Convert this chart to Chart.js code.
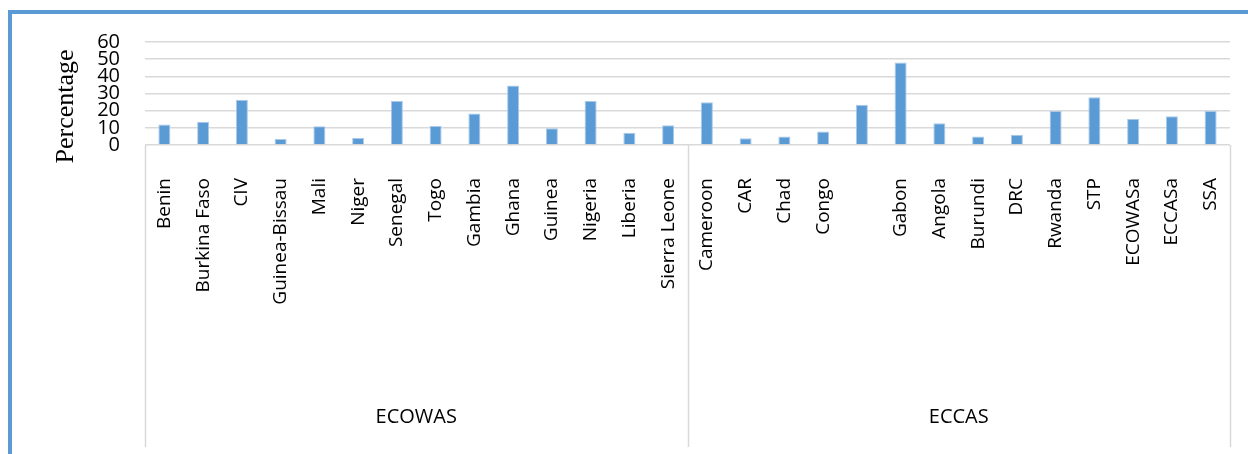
<!DOCTYPE html>
<html>
<head>
<meta charset="utf-8">
<title>Percentage by country</title>
<script src="https://cdn.jsdelivr.net/npm/chart.js@4/dist/chart.umd.min.js"></script>
<style>
    html, body {
        margin: 0;
        padding: 0;
        background: #ffffff;
        overflow: hidden;
    }
    #frame {
        position: absolute;
        left: 8px;
        top: 10px;
        width: 2000px;
        height: 2000px;
        border-left: 4px solid #5b9bd5;
        border-top: 4px solid #5b9bd5;
        box-sizing: border-box;
        pointer-events: none;
    }
    #percentChart {
        position: absolute;
        left: 0;
        top: 0;
    }
</style>
</head>
<body>
<canvas id="percentChart" width="1248" height="454"></canvas>
<div id="frame"></div>
<script>
// ECOWAS countries
const ecowasLabels = ['Benin', 'Burkina Faso', 'CIV', 'Guinea-Bissau', 'Mali', 'Niger', 'Senegal',
    'Togo', 'Gambia', 'Ghana', 'Guinea', 'Nigeria', 'Liberia', 'Sierra Leone'];
const ecowasValues = [12, 13.6, 26.4, 3.5, 10.9, 4.1, 25.6, 11.1, 18.3, 34.6, 9.7, 25.6, 7.2, 11.5];

// ECCAS countries (one category has no label in the source)
const eccasLabels = ['Cameroon', 'CAR', 'Chad', 'Congo', '', 'Gabon', 'Angola', 'Burundi', 'DRC',
    'Rwanda', 'STP', 'ECOWASa', 'ECCASa', 'SSA'];
const eccasValues = [24.9, 3.9, 4.9, 7.8, 23.5, 48, 12.6, 4.9, 6.0, 19.8, 27.8, 15.1, 16.7, 19.8];

const groupNames = ['ECOWAS', 'ECCAS'];
const yTitle = 'Percentage';
const yMax = 60;
const yStep = 10;

const GRID_COLOR = '#d9d9d9';
const BAR_COLOR = '#5b9bd5';

/**
 * Draws the y title, the group separators and the ECOWAS / ECCAS labels
 */
const groupAxisPlugin = {
    id: 'groupAxis',
    afterDraw(chart) {
        const ctx = chart.ctx;
        const x = chart.scales.x;
        const area = chart.chartArea;
        const top = area.bottom;
        const bottom = x.bottom;
        const sizes = [ecowasLabels.length, eccasLabels.length];

        // boundaries in category units
        const bounds = [-0.5];
        sizes.forEach(n => bounds.push(bounds[bounds.length - 1] + n));

        ctx.save();
        ctx.strokeStyle = GRID_COLOR;
        ctx.lineWidth = 1.5;
        bounds.forEach(b => {
            const px = Math.round(x.getPixelForValue(b)) + 0.5;
            ctx.beginPath();
            ctx.moveTo(px, top);
            ctx.lineTo(px, bottom);
            ctx.stroke();
        });

        ctx.fillStyle = '#000000';
        ctx.font = '20px "Open Sans"';
        ctx.textAlign = 'center';
        ctx.textBaseline = 'middle';
        groupNames.forEach((name, i) => {
            const cx = (x.getPixelForValue(bounds[i]) + x.getPixelForValue(bounds[i + 1])) / 2;
            ctx.fillText(name, cx, bottom - 30);
        });

        // y axis title, sits a little below the middle of the plot like the source
        ctx.translate(chart.scales.y.left + 66, (area.top + area.bottom) / 2 + 13);
        ctx.rotate(-Math.PI / 2);
        ctx.font = '26px "Liberation Serif"';
        ctx.fillText(yTitle, 0, 0);
        ctx.restore();
    }
};

document.addEventListener('DOMContentLoaded', () => {
    const ctx = document.getElementById('percentChart').getContext('2d');
    new Chart(ctx, {
        type: 'bar',
        data: {
            labels: ecowasLabels.concat(eccasLabels),
            datasets: [{
                label: yTitle,
                data: ecowasValues.concat(eccasValues),
                backgroundColor: BAR_COLOR,
                borderColor: '#a9c9ea',
                borderWidth: 1,
                categoryPercentage: 1,
                barPercentage: 0.31
            }]
        },
        options: {
            responsive: false,
            animation: false,
            devicePixelRatio: 1,
            layout: {
                padding: { top: 42, left: 0, right: 18, bottom: 7 }
            },
            plugins: {
                legend: { display: false },
                tooltip: { enabled: false }
            },
            scales: {
                x: {
                    offset: true,
                    grid: { display: false },
                    border: { display: false },
                    ticks: {
                        autoSkip: false,
                        minRotation: 90,
                        maxRotation: 90,
                        padding: 25,
                        color: '#000000',
                        font: { family: 'Open Sans', size: 19 }
                    },
                    afterFit(scale) {
                        scale.height = 302;
                        scale.paddingLeft = 0;
                        scale.paddingRight = 0;
                    }
                },
                y: {
                    min: 0,
                    max: yMax,
                    border: { display: false },
                    grid: {
                        color: GRID_COLOR,
                        lineWidth: 1.5,
                        drawTicks: false
                    },
                    ticks: {
                        stepSize: yStep,
                        autoSkip: false,
                        padding: 25,
                        color: '#000000',
                        font: { family: 'Open Sans', size: 20 }
                    },
                    afterFit(scale) {
                        scale.width = 145;
                    }
                }
            }
        },
        plugins: [groupAxisPlugin]
    });
});
</script>
</body>
</html>
